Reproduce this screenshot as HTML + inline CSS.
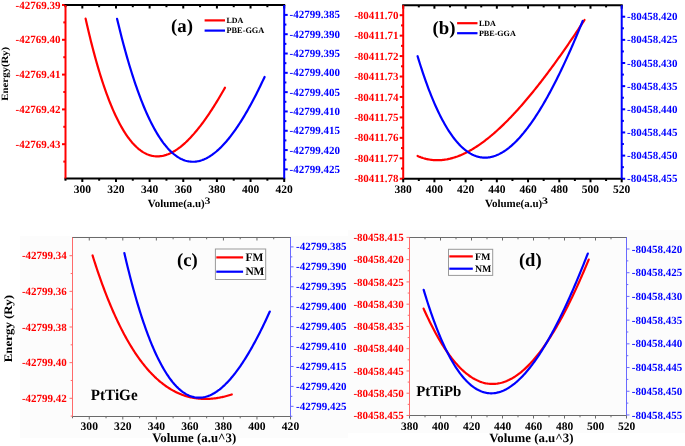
<!DOCTYPE html><html><head><meta charset="utf-8"><style>html,body{margin:0;padding:0;background:#fff;width:685px;height:446px;overflow:hidden}svg{display:block;will-change:transform}text{font-family:"Liberation Serif",serif;font-weight:bold;text-rendering:geometricPrecision}</style></head><body>
<svg width="685" height="446" viewBox="0 0 685 446">
<rect x="0" y="0" width="685" height="446" fill="#fff"/>
<rect x="20" y="236" width="328" height="202" fill="#fcfcfc"/>
<rect x="348" y="230" width="337" height="203" fill="#fcfcfc"/>
<line x1="65.50" y1="178.50" x2="65.50" y2="180.70" stroke="#000" stroke-width="2"/>
<line x1="65.50" y1="5.00" x2="65.50" y2="7.20" stroke="#000" stroke-width="2"/>
<line x1="82.32" y1="178.50" x2="82.32" y2="182.00" stroke="#000" stroke-width="2"/>
<line x1="82.32" y1="5.00" x2="82.32" y2="8.50" stroke="#000" stroke-width="2"/>
<text x="82.32" y="192.70" font-size="11.5" fill="#000" text-anchor="middle" >300</text>
<line x1="99.15" y1="178.50" x2="99.15" y2="180.70" stroke="#000" stroke-width="2"/>
<line x1="99.15" y1="5.00" x2="99.15" y2="7.20" stroke="#000" stroke-width="2"/>
<line x1="115.97" y1="178.50" x2="115.97" y2="182.00" stroke="#000" stroke-width="2"/>
<line x1="115.97" y1="5.00" x2="115.97" y2="8.50" stroke="#000" stroke-width="2"/>
<text x="115.97" y="192.70" font-size="11.5" fill="#000" text-anchor="middle" >320</text>
<line x1="132.79" y1="178.50" x2="132.79" y2="180.70" stroke="#000" stroke-width="2"/>
<line x1="132.79" y1="5.00" x2="132.79" y2="7.20" stroke="#000" stroke-width="2"/>
<line x1="149.62" y1="178.50" x2="149.62" y2="182.00" stroke="#000" stroke-width="2"/>
<line x1="149.62" y1="5.00" x2="149.62" y2="8.50" stroke="#000" stroke-width="2"/>
<text x="149.62" y="192.70" font-size="11.5" fill="#000" text-anchor="middle" >340</text>
<line x1="166.44" y1="178.50" x2="166.44" y2="180.70" stroke="#000" stroke-width="2"/>
<line x1="166.44" y1="5.00" x2="166.44" y2="7.20" stroke="#000" stroke-width="2"/>
<line x1="183.26" y1="178.50" x2="183.26" y2="182.00" stroke="#000" stroke-width="2"/>
<line x1="183.26" y1="5.00" x2="183.26" y2="8.50" stroke="#000" stroke-width="2"/>
<text x="183.26" y="192.70" font-size="11.5" fill="#000" text-anchor="middle" >360</text>
<line x1="200.08" y1="178.50" x2="200.08" y2="180.70" stroke="#000" stroke-width="2"/>
<line x1="200.08" y1="5.00" x2="200.08" y2="7.20" stroke="#000" stroke-width="2"/>
<line x1="216.91" y1="178.50" x2="216.91" y2="182.00" stroke="#000" stroke-width="2"/>
<line x1="216.91" y1="5.00" x2="216.91" y2="8.50" stroke="#000" stroke-width="2"/>
<text x="216.91" y="192.70" font-size="11.5" fill="#000" text-anchor="middle" >380</text>
<line x1="233.73" y1="178.50" x2="233.73" y2="180.70" stroke="#000" stroke-width="2"/>
<line x1="233.73" y1="5.00" x2="233.73" y2="7.20" stroke="#000" stroke-width="2"/>
<line x1="250.55" y1="178.50" x2="250.55" y2="182.00" stroke="#000" stroke-width="2"/>
<line x1="250.55" y1="5.00" x2="250.55" y2="8.50" stroke="#000" stroke-width="2"/>
<text x="250.55" y="192.70" font-size="11.5" fill="#000" text-anchor="middle" >400</text>
<line x1="267.38" y1="178.50" x2="267.38" y2="180.70" stroke="#000" stroke-width="2"/>
<line x1="267.38" y1="5.00" x2="267.38" y2="7.20" stroke="#000" stroke-width="2"/>
<line x1="284.20" y1="178.50" x2="284.20" y2="182.00" stroke="#000" stroke-width="2"/>
<line x1="284.20" y1="5.00" x2="284.20" y2="8.50" stroke="#000" stroke-width="2"/>
<text x="284.20" y="192.70" font-size="11.5" fill="#000" text-anchor="middle" >420</text>
<line x1="65.50" y1="5.00" x2="62.00" y2="5.00" stroke="#ff0000" stroke-width="2"/>
<text x="60.50" y="8.57" font-size="11.0" fill="#ff0000" text-anchor="end" >-42769.39</text>
<line x1="65.50" y1="22.40" x2="63.30" y2="22.40" stroke="#ff0000" stroke-width="2"/>
<line x1="65.50" y1="39.80" x2="62.00" y2="39.80" stroke="#ff0000" stroke-width="2"/>
<text x="60.50" y="43.38" font-size="11.0" fill="#ff0000" text-anchor="end" >-42769.40</text>
<line x1="65.50" y1="57.20" x2="63.30" y2="57.20" stroke="#ff0000" stroke-width="2"/>
<line x1="65.50" y1="74.60" x2="62.00" y2="74.60" stroke="#ff0000" stroke-width="2"/>
<text x="60.50" y="78.18" font-size="11.0" fill="#ff0000" text-anchor="end" >-42769.41</text>
<line x1="65.50" y1="92.00" x2="63.30" y2="92.00" stroke="#ff0000" stroke-width="2"/>
<line x1="65.50" y1="109.40" x2="62.00" y2="109.40" stroke="#ff0000" stroke-width="2"/>
<text x="60.50" y="112.98" font-size="11.0" fill="#ff0000" text-anchor="end" >-42769.42</text>
<line x1="65.50" y1="126.80" x2="63.30" y2="126.80" stroke="#ff0000" stroke-width="2"/>
<line x1="65.50" y1="144.20" x2="62.00" y2="144.20" stroke="#ff0000" stroke-width="2"/>
<text x="60.50" y="147.78" font-size="11.0" fill="#ff0000" text-anchor="end" >-42769.43</text>
<line x1="65.50" y1="161.60" x2="63.30" y2="161.60" stroke="#ff0000" stroke-width="2"/>
<line x1="284.20" y1="14.90" x2="287.70" y2="14.90" stroke="#0000ff" stroke-width="2"/>
<text x="289.50" y="18.48" font-size="11.0" fill="#0000ff" text-anchor="start" >-42799.385</text>
<line x1="284.20" y1="24.56" x2="286.40" y2="24.56" stroke="#0000ff" stroke-width="2"/>
<line x1="284.20" y1="34.21" x2="287.70" y2="34.21" stroke="#0000ff" stroke-width="2"/>
<text x="289.50" y="37.78" font-size="11.0" fill="#0000ff" text-anchor="start" >-42799.390</text>
<line x1="284.20" y1="43.86" x2="286.40" y2="43.86" stroke="#0000ff" stroke-width="2"/>
<line x1="284.20" y1="53.52" x2="287.70" y2="53.52" stroke="#0000ff" stroke-width="2"/>
<text x="289.50" y="57.09" font-size="11.0" fill="#0000ff" text-anchor="start" >-42799.395</text>
<line x1="284.20" y1="63.17" x2="286.40" y2="63.17" stroke="#0000ff" stroke-width="2"/>
<line x1="284.20" y1="72.83" x2="287.70" y2="72.83" stroke="#0000ff" stroke-width="2"/>
<text x="289.50" y="76.40" font-size="11.0" fill="#0000ff" text-anchor="start" >-42799.400</text>
<line x1="284.20" y1="82.48" x2="286.40" y2="82.48" stroke="#0000ff" stroke-width="2"/>
<line x1="284.20" y1="92.14" x2="287.70" y2="92.14" stroke="#0000ff" stroke-width="2"/>
<text x="289.50" y="95.71" font-size="11.0" fill="#0000ff" text-anchor="start" >-42799.405</text>
<line x1="284.20" y1="101.79" x2="286.40" y2="101.79" stroke="#0000ff" stroke-width="2"/>
<line x1="284.20" y1="111.45" x2="287.70" y2="111.45" stroke="#0000ff" stroke-width="2"/>
<text x="289.50" y="115.02" font-size="11.0" fill="#0000ff" text-anchor="start" >-42799.410</text>
<line x1="284.20" y1="121.10" x2="286.40" y2="121.10" stroke="#0000ff" stroke-width="2"/>
<line x1="284.20" y1="130.76" x2="287.70" y2="130.76" stroke="#0000ff" stroke-width="2"/>
<text x="289.50" y="134.33" font-size="11.0" fill="#0000ff" text-anchor="start" >-42799.415</text>
<line x1="284.20" y1="140.41" x2="286.40" y2="140.41" stroke="#0000ff" stroke-width="2"/>
<line x1="284.20" y1="150.07" x2="287.70" y2="150.07" stroke="#0000ff" stroke-width="2"/>
<text x="289.50" y="153.64" font-size="11.0" fill="#0000ff" text-anchor="start" >-42799.420</text>
<line x1="284.20" y1="159.72" x2="286.40" y2="159.72" stroke="#0000ff" stroke-width="2"/>
<line x1="284.20" y1="169.38" x2="287.70" y2="169.38" stroke="#0000ff" stroke-width="2"/>
<text x="289.50" y="172.95" font-size="11.0" fill="#0000ff" text-anchor="start" >-42799.425</text>
<line x1="64.50" y1="5.00" x2="285.20" y2="5.00" stroke="#000" stroke-width="2"/>
<line x1="64.50" y1="178.50" x2="285.20" y2="178.50" stroke="#000" stroke-width="2"/>
<line x1="65.50" y1="5.00" x2="65.50" y2="178.50" stroke="#ff0000" stroke-width="2"/>
<line x1="284.20" y1="5.00" x2="284.20" y2="178.50" stroke="#0000ff" stroke-width="2"/>
<line x1="403.20" y1="178.80" x2="403.20" y2="182.30" stroke="#000" stroke-width="2"/>
<line x1="403.20" y1="5.20" x2="403.20" y2="8.70" stroke="#000" stroke-width="2"/>
<text x="403.20" y="192.70" font-size="11.5" fill="#000" text-anchor="middle" >380</text>
<line x1="418.81" y1="178.80" x2="418.81" y2="181.00" stroke="#000" stroke-width="2"/>
<line x1="418.81" y1="5.20" x2="418.81" y2="7.40" stroke="#000" stroke-width="2"/>
<line x1="434.41" y1="178.80" x2="434.41" y2="182.30" stroke="#000" stroke-width="2"/>
<line x1="434.41" y1="5.20" x2="434.41" y2="8.70" stroke="#000" stroke-width="2"/>
<text x="434.41" y="192.70" font-size="11.5" fill="#000" text-anchor="middle" >400</text>
<line x1="450.02" y1="178.80" x2="450.02" y2="181.00" stroke="#000" stroke-width="2"/>
<line x1="450.02" y1="5.20" x2="450.02" y2="7.40" stroke="#000" stroke-width="2"/>
<line x1="465.63" y1="178.80" x2="465.63" y2="182.30" stroke="#000" stroke-width="2"/>
<line x1="465.63" y1="5.20" x2="465.63" y2="8.70" stroke="#000" stroke-width="2"/>
<text x="465.63" y="192.70" font-size="11.5" fill="#000" text-anchor="middle" >420</text>
<line x1="481.24" y1="178.80" x2="481.24" y2="181.00" stroke="#000" stroke-width="2"/>
<line x1="481.24" y1="5.20" x2="481.24" y2="7.40" stroke="#000" stroke-width="2"/>
<line x1="496.84" y1="178.80" x2="496.84" y2="182.30" stroke="#000" stroke-width="2"/>
<line x1="496.84" y1="5.20" x2="496.84" y2="8.70" stroke="#000" stroke-width="2"/>
<text x="496.84" y="192.70" font-size="11.5" fill="#000" text-anchor="middle" >440</text>
<line x1="512.45" y1="178.80" x2="512.45" y2="181.00" stroke="#000" stroke-width="2"/>
<line x1="512.45" y1="5.20" x2="512.45" y2="7.40" stroke="#000" stroke-width="2"/>
<line x1="528.06" y1="178.80" x2="528.06" y2="182.30" stroke="#000" stroke-width="2"/>
<line x1="528.06" y1="5.20" x2="528.06" y2="8.70" stroke="#000" stroke-width="2"/>
<text x="528.06" y="192.70" font-size="11.5" fill="#000" text-anchor="middle" >460</text>
<line x1="543.66" y1="178.80" x2="543.66" y2="181.00" stroke="#000" stroke-width="2"/>
<line x1="543.66" y1="5.20" x2="543.66" y2="7.40" stroke="#000" stroke-width="2"/>
<line x1="559.27" y1="178.80" x2="559.27" y2="182.30" stroke="#000" stroke-width="2"/>
<line x1="559.27" y1="5.20" x2="559.27" y2="8.70" stroke="#000" stroke-width="2"/>
<text x="559.27" y="192.70" font-size="11.5" fill="#000" text-anchor="middle" >480</text>
<line x1="574.88" y1="178.80" x2="574.88" y2="181.00" stroke="#000" stroke-width="2"/>
<line x1="574.88" y1="5.20" x2="574.88" y2="7.40" stroke="#000" stroke-width="2"/>
<line x1="590.49" y1="178.80" x2="590.49" y2="182.30" stroke="#000" stroke-width="2"/>
<line x1="590.49" y1="5.20" x2="590.49" y2="8.70" stroke="#000" stroke-width="2"/>
<text x="590.49" y="192.70" font-size="11.5" fill="#000" text-anchor="middle" >500</text>
<line x1="606.09" y1="178.80" x2="606.09" y2="181.00" stroke="#000" stroke-width="2"/>
<line x1="606.09" y1="5.20" x2="606.09" y2="7.40" stroke="#000" stroke-width="2"/>
<line x1="621.70" y1="178.80" x2="621.70" y2="182.30" stroke="#000" stroke-width="2"/>
<line x1="621.70" y1="5.20" x2="621.70" y2="8.70" stroke="#000" stroke-width="2"/>
<text x="621.70" y="192.70" font-size="11.5" fill="#000" text-anchor="middle" >520</text>
<line x1="403.20" y1="15.20" x2="399.70" y2="15.20" stroke="#ff0000" stroke-width="2"/>
<text x="398.50" y="18.77" font-size="11.0" fill="#ff0000" text-anchor="end" >-80411.70</text>
<line x1="403.20" y1="25.42" x2="401.00" y2="25.42" stroke="#ff0000" stroke-width="2"/>
<line x1="403.20" y1="35.64" x2="399.70" y2="35.64" stroke="#ff0000" stroke-width="2"/>
<text x="398.50" y="39.21" font-size="11.0" fill="#ff0000" text-anchor="end" >-80411.71</text>
<line x1="403.20" y1="45.86" x2="401.00" y2="45.86" stroke="#ff0000" stroke-width="2"/>
<line x1="403.20" y1="56.08" x2="399.70" y2="56.08" stroke="#ff0000" stroke-width="2"/>
<text x="398.50" y="59.65" font-size="11.0" fill="#ff0000" text-anchor="end" >-80411.72</text>
<line x1="403.20" y1="66.30" x2="401.00" y2="66.30" stroke="#ff0000" stroke-width="2"/>
<line x1="403.20" y1="76.52" x2="399.70" y2="76.52" stroke="#ff0000" stroke-width="2"/>
<text x="398.50" y="80.09" font-size="11.0" fill="#ff0000" text-anchor="end" >-80411.73</text>
<line x1="403.20" y1="86.74" x2="401.00" y2="86.74" stroke="#ff0000" stroke-width="2"/>
<line x1="403.20" y1="96.96" x2="399.70" y2="96.96" stroke="#ff0000" stroke-width="2"/>
<text x="398.50" y="100.53" font-size="11.0" fill="#ff0000" text-anchor="end" >-80411.74</text>
<line x1="403.20" y1="107.18" x2="401.00" y2="107.18" stroke="#ff0000" stroke-width="2"/>
<line x1="403.20" y1="117.40" x2="399.70" y2="117.40" stroke="#ff0000" stroke-width="2"/>
<text x="398.50" y="120.97" font-size="11.0" fill="#ff0000" text-anchor="end" >-80411.75</text>
<line x1="403.20" y1="127.62" x2="401.00" y2="127.62" stroke="#ff0000" stroke-width="2"/>
<line x1="403.20" y1="137.84" x2="399.70" y2="137.84" stroke="#ff0000" stroke-width="2"/>
<text x="398.50" y="141.41" font-size="11.0" fill="#ff0000" text-anchor="end" >-80411.76</text>
<line x1="403.20" y1="148.06" x2="401.00" y2="148.06" stroke="#ff0000" stroke-width="2"/>
<line x1="403.20" y1="158.28" x2="399.70" y2="158.28" stroke="#ff0000" stroke-width="2"/>
<text x="398.50" y="161.85" font-size="11.0" fill="#ff0000" text-anchor="end" >-80411.77</text>
<line x1="403.20" y1="168.50" x2="401.00" y2="168.50" stroke="#ff0000" stroke-width="2"/>
<line x1="403.20" y1="178.72" x2="399.70" y2="178.72" stroke="#ff0000" stroke-width="2"/>
<text x="398.50" y="182.29" font-size="11.0" fill="#ff0000" text-anchor="end" >-80411.78</text>
<line x1="621.70" y1="16.70" x2="625.20" y2="16.70" stroke="#0000ff" stroke-width="2"/>
<text x="627.00" y="20.27" font-size="11.0" fill="#0000ff" text-anchor="start" >-80458.420</text>
<line x1="621.70" y1="28.28" x2="623.90" y2="28.28" stroke="#0000ff" stroke-width="2"/>
<line x1="621.70" y1="39.85" x2="625.20" y2="39.85" stroke="#0000ff" stroke-width="2"/>
<text x="627.00" y="43.43" font-size="11.0" fill="#0000ff" text-anchor="start" >-80458.425</text>
<line x1="621.70" y1="51.43" x2="623.90" y2="51.43" stroke="#0000ff" stroke-width="2"/>
<line x1="621.70" y1="63.00" x2="625.20" y2="63.00" stroke="#0000ff" stroke-width="2"/>
<text x="627.00" y="66.58" font-size="11.0" fill="#0000ff" text-anchor="start" >-80458.430</text>
<line x1="621.70" y1="74.58" x2="623.90" y2="74.58" stroke="#0000ff" stroke-width="2"/>
<line x1="621.70" y1="86.15" x2="625.20" y2="86.15" stroke="#0000ff" stroke-width="2"/>
<text x="627.00" y="89.73" font-size="11.0" fill="#0000ff" text-anchor="start" >-80458.435</text>
<line x1="621.70" y1="97.73" x2="623.90" y2="97.73" stroke="#0000ff" stroke-width="2"/>
<line x1="621.70" y1="109.30" x2="625.20" y2="109.30" stroke="#0000ff" stroke-width="2"/>
<text x="627.00" y="112.88" font-size="11.0" fill="#0000ff" text-anchor="start" >-80458.440</text>
<line x1="621.70" y1="120.88" x2="623.90" y2="120.88" stroke="#0000ff" stroke-width="2"/>
<line x1="621.70" y1="132.45" x2="625.20" y2="132.45" stroke="#0000ff" stroke-width="2"/>
<text x="627.00" y="136.03" font-size="11.0" fill="#0000ff" text-anchor="start" >-80458.445</text>
<line x1="621.70" y1="144.03" x2="623.90" y2="144.03" stroke="#0000ff" stroke-width="2"/>
<line x1="621.70" y1="155.60" x2="625.20" y2="155.60" stroke="#0000ff" stroke-width="2"/>
<text x="627.00" y="159.18" font-size="11.0" fill="#0000ff" text-anchor="start" >-80458.450</text>
<line x1="621.70" y1="167.18" x2="623.90" y2="167.18" stroke="#0000ff" stroke-width="2"/>
<line x1="621.70" y1="178.75" x2="625.20" y2="178.75" stroke="#0000ff" stroke-width="2"/>
<text x="627.00" y="182.33" font-size="11.0" fill="#0000ff" text-anchor="start" >-80458.455</text>
<line x1="402.20" y1="5.20" x2="622.70" y2="5.20" stroke="#000" stroke-width="2"/>
<line x1="402.20" y1="178.80" x2="622.70" y2="178.80" stroke="#000" stroke-width="2"/>
<line x1="403.20" y1="5.20" x2="403.20" y2="178.80" stroke="#ff0000" stroke-width="2"/>
<line x1="621.70" y1="5.20" x2="621.70" y2="178.80" stroke="#0000ff" stroke-width="2"/>
<line x1="72.50" y1="416.50" x2="72.50" y2="418.30" stroke="#6a6a6a" stroke-width="1"/>
<line x1="72.50" y1="237.50" x2="72.50" y2="239.30" stroke="#6a6a6a" stroke-width="1"/>
<line x1="89.27" y1="416.50" x2="89.27" y2="419.50" stroke="#6a6a6a" stroke-width="1"/>
<line x1="89.27" y1="237.50" x2="89.27" y2="240.50" stroke="#6a6a6a" stroke-width="1"/>
<text x="89.27" y="430.30" font-size="11.6" fill="#000" text-anchor="middle" >300</text>
<line x1="106.04" y1="416.50" x2="106.04" y2="418.30" stroke="#6a6a6a" stroke-width="1"/>
<line x1="106.04" y1="237.50" x2="106.04" y2="239.30" stroke="#6a6a6a" stroke-width="1"/>
<line x1="122.81" y1="416.50" x2="122.81" y2="419.50" stroke="#6a6a6a" stroke-width="1"/>
<line x1="122.81" y1="237.50" x2="122.81" y2="240.50" stroke="#6a6a6a" stroke-width="1"/>
<text x="122.81" y="430.30" font-size="11.6" fill="#000" text-anchor="middle" >320</text>
<line x1="139.58" y1="416.50" x2="139.58" y2="418.30" stroke="#6a6a6a" stroke-width="1"/>
<line x1="139.58" y1="237.50" x2="139.58" y2="239.30" stroke="#6a6a6a" stroke-width="1"/>
<line x1="156.35" y1="416.50" x2="156.35" y2="419.50" stroke="#6a6a6a" stroke-width="1"/>
<line x1="156.35" y1="237.50" x2="156.35" y2="240.50" stroke="#6a6a6a" stroke-width="1"/>
<text x="156.35" y="430.30" font-size="11.6" fill="#000" text-anchor="middle" >340</text>
<line x1="173.12" y1="416.50" x2="173.12" y2="418.30" stroke="#6a6a6a" stroke-width="1"/>
<line x1="173.12" y1="237.50" x2="173.12" y2="239.30" stroke="#6a6a6a" stroke-width="1"/>
<line x1="189.88" y1="416.50" x2="189.88" y2="419.50" stroke="#6a6a6a" stroke-width="1"/>
<line x1="189.88" y1="237.50" x2="189.88" y2="240.50" stroke="#6a6a6a" stroke-width="1"/>
<text x="189.88" y="430.30" font-size="11.6" fill="#000" text-anchor="middle" >360</text>
<line x1="206.65" y1="416.50" x2="206.65" y2="418.30" stroke="#6a6a6a" stroke-width="1"/>
<line x1="206.65" y1="237.50" x2="206.65" y2="239.30" stroke="#6a6a6a" stroke-width="1"/>
<line x1="223.42" y1="416.50" x2="223.42" y2="419.50" stroke="#6a6a6a" stroke-width="1"/>
<line x1="223.42" y1="237.50" x2="223.42" y2="240.50" stroke="#6a6a6a" stroke-width="1"/>
<text x="223.42" y="430.30" font-size="11.6" fill="#000" text-anchor="middle" >380</text>
<line x1="240.19" y1="416.50" x2="240.19" y2="418.30" stroke="#6a6a6a" stroke-width="1"/>
<line x1="240.19" y1="237.50" x2="240.19" y2="239.30" stroke="#6a6a6a" stroke-width="1"/>
<line x1="256.96" y1="416.50" x2="256.96" y2="419.50" stroke="#6a6a6a" stroke-width="1"/>
<line x1="256.96" y1="237.50" x2="256.96" y2="240.50" stroke="#6a6a6a" stroke-width="1"/>
<text x="256.96" y="430.30" font-size="11.6" fill="#000" text-anchor="middle" >400</text>
<line x1="273.73" y1="416.50" x2="273.73" y2="418.30" stroke="#6a6a6a" stroke-width="1"/>
<line x1="273.73" y1="237.50" x2="273.73" y2="239.30" stroke="#6a6a6a" stroke-width="1"/>
<line x1="290.50" y1="416.50" x2="290.50" y2="419.50" stroke="#6a6a6a" stroke-width="1"/>
<line x1="290.50" y1="237.50" x2="290.50" y2="240.50" stroke="#6a6a6a" stroke-width="1"/>
<text x="290.50" y="430.30" font-size="11.6" fill="#000" text-anchor="middle" >420</text>
<line x1="72.50" y1="255.70" x2="69.50" y2="255.70" stroke="#ff6a6a" stroke-width="1"/>
<text x="66.80" y="259.27" font-size="11.0" fill="#ff0000" text-anchor="end" >-42799.34</text>
<line x1="72.50" y1="273.53" x2="70.70" y2="273.53" stroke="#ff6a6a" stroke-width="1"/>
<line x1="72.50" y1="291.35" x2="69.50" y2="291.35" stroke="#ff6a6a" stroke-width="1"/>
<text x="66.80" y="294.92" font-size="11.0" fill="#ff0000" text-anchor="end" >-42799.36</text>
<line x1="72.50" y1="309.17" x2="70.70" y2="309.17" stroke="#ff6a6a" stroke-width="1"/>
<line x1="72.50" y1="327.00" x2="69.50" y2="327.00" stroke="#ff6a6a" stroke-width="1"/>
<text x="66.80" y="330.57" font-size="11.0" fill="#ff0000" text-anchor="end" >-42799.38</text>
<line x1="72.50" y1="344.82" x2="70.70" y2="344.82" stroke="#ff6a6a" stroke-width="1"/>
<line x1="72.50" y1="362.65" x2="69.50" y2="362.65" stroke="#ff6a6a" stroke-width="1"/>
<text x="66.80" y="366.22" font-size="11.0" fill="#ff0000" text-anchor="end" >-42799.40</text>
<line x1="72.50" y1="380.47" x2="70.70" y2="380.47" stroke="#ff6a6a" stroke-width="1"/>
<line x1="72.50" y1="398.30" x2="69.50" y2="398.30" stroke="#ff6a6a" stroke-width="1"/>
<text x="66.80" y="401.87" font-size="11.0" fill="#ff0000" text-anchor="end" >-42799.42</text>
<line x1="72.50" y1="416.12" x2="70.70" y2="416.12" stroke="#ff6a6a" stroke-width="1"/>
<line x1="290.50" y1="246.90" x2="293.50" y2="246.90" stroke="#6a6aff" stroke-width="1"/>
<text x="296.00" y="250.47" font-size="11.0" fill="#0000ff" text-anchor="start" >-42799.385</text>
<line x1="290.50" y1="256.87" x2="292.30" y2="256.87" stroke="#6a6aff" stroke-width="1"/>
<line x1="290.50" y1="266.83" x2="293.50" y2="266.83" stroke="#6a6aff" stroke-width="1"/>
<text x="296.00" y="270.40" font-size="11.0" fill="#0000ff" text-anchor="start" >-42799.390</text>
<line x1="290.50" y1="276.79" x2="292.30" y2="276.79" stroke="#6a6aff" stroke-width="1"/>
<line x1="290.50" y1="286.76" x2="293.50" y2="286.76" stroke="#6a6aff" stroke-width="1"/>
<text x="296.00" y="290.33" font-size="11.0" fill="#0000ff" text-anchor="start" >-42799.395</text>
<line x1="290.50" y1="296.72" x2="292.30" y2="296.72" stroke="#6a6aff" stroke-width="1"/>
<line x1="290.50" y1="306.69" x2="293.50" y2="306.69" stroke="#6a6aff" stroke-width="1"/>
<text x="296.00" y="310.26" font-size="11.0" fill="#0000ff" text-anchor="start" >-42799.400</text>
<line x1="290.50" y1="316.65" x2="292.30" y2="316.65" stroke="#6a6aff" stroke-width="1"/>
<line x1="290.50" y1="326.62" x2="293.50" y2="326.62" stroke="#6a6aff" stroke-width="1"/>
<text x="296.00" y="330.19" font-size="11.0" fill="#0000ff" text-anchor="start" >-42799.405</text>
<line x1="290.50" y1="336.58" x2="292.30" y2="336.58" stroke="#6a6aff" stroke-width="1"/>
<line x1="290.50" y1="346.55" x2="293.50" y2="346.55" stroke="#6a6aff" stroke-width="1"/>
<text x="296.00" y="350.12" font-size="11.0" fill="#0000ff" text-anchor="start" >-42799.410</text>
<line x1="290.50" y1="356.51" x2="292.30" y2="356.51" stroke="#6a6aff" stroke-width="1"/>
<line x1="290.50" y1="366.48" x2="293.50" y2="366.48" stroke="#6a6aff" stroke-width="1"/>
<text x="296.00" y="370.05" font-size="11.0" fill="#0000ff" text-anchor="start" >-42799.415</text>
<line x1="290.50" y1="376.44" x2="292.30" y2="376.44" stroke="#6a6aff" stroke-width="1"/>
<line x1="290.50" y1="386.41" x2="293.50" y2="386.41" stroke="#6a6aff" stroke-width="1"/>
<text x="296.00" y="389.98" font-size="11.0" fill="#0000ff" text-anchor="start" >-42799.420</text>
<line x1="290.50" y1="396.37" x2="292.30" y2="396.37" stroke="#6a6aff" stroke-width="1"/>
<line x1="290.50" y1="406.34" x2="293.50" y2="406.34" stroke="#6a6aff" stroke-width="1"/>
<text x="296.00" y="409.91" font-size="11.0" fill="#0000ff" text-anchor="start" >-42799.425</text>
<line x1="290.50" y1="416.30" x2="292.30" y2="416.30" stroke="#6a6aff" stroke-width="1"/>
<line x1="72.00" y1="237.50" x2="291.00" y2="237.50" stroke="#6a6a6a" stroke-width="1"/>
<line x1="72.00" y1="416.50" x2="291.00" y2="416.50" stroke="#6a6a6a" stroke-width="1"/>
<line x1="72.50" y1="237.50" x2="72.50" y2="416.50" stroke="#ff6a6a" stroke-width="1"/>
<line x1="290.50" y1="237.50" x2="290.50" y2="416.50" stroke="#6a6aff" stroke-width="1"/>
<line x1="409.50" y1="415.50" x2="409.50" y2="418.50" stroke="#6a6a6a" stroke-width="1"/>
<line x1="409.50" y1="237.50" x2="409.50" y2="240.50" stroke="#6a6a6a" stroke-width="1"/>
<text x="409.50" y="430.30" font-size="11.5" fill="#000" text-anchor="middle" >380</text>
<line x1="425.00" y1="415.50" x2="425.00" y2="417.30" stroke="#6a6a6a" stroke-width="1"/>
<line x1="425.00" y1="237.50" x2="425.00" y2="239.30" stroke="#6a6a6a" stroke-width="1"/>
<line x1="440.50" y1="415.50" x2="440.50" y2="418.50" stroke="#6a6a6a" stroke-width="1"/>
<line x1="440.50" y1="237.50" x2="440.50" y2="240.50" stroke="#6a6a6a" stroke-width="1"/>
<text x="440.50" y="430.30" font-size="11.5" fill="#000" text-anchor="middle" >400</text>
<line x1="456.00" y1="415.50" x2="456.00" y2="417.30" stroke="#6a6a6a" stroke-width="1"/>
<line x1="456.00" y1="237.50" x2="456.00" y2="239.30" stroke="#6a6a6a" stroke-width="1"/>
<line x1="471.50" y1="415.50" x2="471.50" y2="418.50" stroke="#6a6a6a" stroke-width="1"/>
<line x1="471.50" y1="237.50" x2="471.50" y2="240.50" stroke="#6a6a6a" stroke-width="1"/>
<text x="471.50" y="430.30" font-size="11.5" fill="#000" text-anchor="middle" >420</text>
<line x1="487.00" y1="415.50" x2="487.00" y2="417.30" stroke="#6a6a6a" stroke-width="1"/>
<line x1="487.00" y1="237.50" x2="487.00" y2="239.30" stroke="#6a6a6a" stroke-width="1"/>
<line x1="502.50" y1="415.50" x2="502.50" y2="418.50" stroke="#6a6a6a" stroke-width="1"/>
<line x1="502.50" y1="237.50" x2="502.50" y2="240.50" stroke="#6a6a6a" stroke-width="1"/>
<text x="502.50" y="430.30" font-size="11.5" fill="#000" text-anchor="middle" >440</text>
<line x1="518.00" y1="415.50" x2="518.00" y2="417.30" stroke="#6a6a6a" stroke-width="1"/>
<line x1="518.00" y1="237.50" x2="518.00" y2="239.30" stroke="#6a6a6a" stroke-width="1"/>
<line x1="533.50" y1="415.50" x2="533.50" y2="418.50" stroke="#6a6a6a" stroke-width="1"/>
<line x1="533.50" y1="237.50" x2="533.50" y2="240.50" stroke="#6a6a6a" stroke-width="1"/>
<text x="533.50" y="430.30" font-size="11.5" fill="#000" text-anchor="middle" >460</text>
<line x1="549.00" y1="415.50" x2="549.00" y2="417.30" stroke="#6a6a6a" stroke-width="1"/>
<line x1="549.00" y1="237.50" x2="549.00" y2="239.30" stroke="#6a6a6a" stroke-width="1"/>
<line x1="564.50" y1="415.50" x2="564.50" y2="418.50" stroke="#6a6a6a" stroke-width="1"/>
<line x1="564.50" y1="237.50" x2="564.50" y2="240.50" stroke="#6a6a6a" stroke-width="1"/>
<text x="564.50" y="430.30" font-size="11.5" fill="#000" text-anchor="middle" >480</text>
<line x1="580.00" y1="415.50" x2="580.00" y2="417.30" stroke="#6a6a6a" stroke-width="1"/>
<line x1="580.00" y1="237.50" x2="580.00" y2="239.30" stroke="#6a6a6a" stroke-width="1"/>
<line x1="595.50" y1="415.50" x2="595.50" y2="418.50" stroke="#6a6a6a" stroke-width="1"/>
<line x1="595.50" y1="237.50" x2="595.50" y2="240.50" stroke="#6a6a6a" stroke-width="1"/>
<text x="595.50" y="430.30" font-size="11.5" fill="#000" text-anchor="middle" >500</text>
<line x1="611.00" y1="415.50" x2="611.00" y2="417.30" stroke="#6a6a6a" stroke-width="1"/>
<line x1="611.00" y1="237.50" x2="611.00" y2="239.30" stroke="#6a6a6a" stroke-width="1"/>
<line x1="626.50" y1="415.50" x2="626.50" y2="418.50" stroke="#6a6a6a" stroke-width="1"/>
<line x1="626.50" y1="237.50" x2="626.50" y2="240.50" stroke="#6a6a6a" stroke-width="1"/>
<text x="626.50" y="430.30" font-size="11.5" fill="#000" text-anchor="middle" >520</text>
<line x1="409.50" y1="237.40" x2="406.50" y2="237.40" stroke="#ff6a6a" stroke-width="1"/>
<text x="403.80" y="240.97" font-size="11.0" fill="#ff0000" text-anchor="end" >-80458.415</text>
<line x1="409.50" y1="248.53" x2="407.70" y2="248.53" stroke="#ff6a6a" stroke-width="1"/>
<line x1="409.50" y1="259.66" x2="406.50" y2="259.66" stroke="#ff6a6a" stroke-width="1"/>
<text x="403.80" y="263.24" font-size="11.0" fill="#ff0000" text-anchor="end" >-80458.420</text>
<line x1="409.50" y1="270.79" x2="407.70" y2="270.79" stroke="#ff6a6a" stroke-width="1"/>
<line x1="409.50" y1="281.92" x2="406.50" y2="281.92" stroke="#ff6a6a" stroke-width="1"/>
<text x="403.80" y="285.50" font-size="11.0" fill="#ff0000" text-anchor="end" >-80458.425</text>
<line x1="409.50" y1="293.05" x2="407.70" y2="293.05" stroke="#ff6a6a" stroke-width="1"/>
<line x1="409.50" y1="304.18" x2="406.50" y2="304.18" stroke="#ff6a6a" stroke-width="1"/>
<text x="403.80" y="307.76" font-size="11.0" fill="#ff0000" text-anchor="end" >-80458.430</text>
<line x1="409.50" y1="315.31" x2="407.70" y2="315.31" stroke="#ff6a6a" stroke-width="1"/>
<line x1="409.50" y1="326.44" x2="406.50" y2="326.44" stroke="#ff6a6a" stroke-width="1"/>
<text x="403.80" y="330.02" font-size="11.0" fill="#ff0000" text-anchor="end" >-80458.435</text>
<line x1="409.50" y1="337.57" x2="407.70" y2="337.57" stroke="#ff6a6a" stroke-width="1"/>
<line x1="409.50" y1="348.70" x2="406.50" y2="348.70" stroke="#ff6a6a" stroke-width="1"/>
<text x="403.80" y="352.28" font-size="11.0" fill="#ff0000" text-anchor="end" >-80458.440</text>
<line x1="409.50" y1="359.83" x2="407.70" y2="359.83" stroke="#ff6a6a" stroke-width="1"/>
<line x1="409.50" y1="370.96" x2="406.50" y2="370.96" stroke="#ff6a6a" stroke-width="1"/>
<text x="403.80" y="374.54" font-size="11.0" fill="#ff0000" text-anchor="end" >-80458.445</text>
<line x1="409.50" y1="382.09" x2="407.70" y2="382.09" stroke="#ff6a6a" stroke-width="1"/>
<line x1="409.50" y1="393.22" x2="406.50" y2="393.22" stroke="#ff6a6a" stroke-width="1"/>
<text x="403.80" y="396.80" font-size="11.0" fill="#ff0000" text-anchor="end" >-80458.450</text>
<line x1="409.50" y1="404.35" x2="407.70" y2="404.35" stroke="#ff6a6a" stroke-width="1"/>
<line x1="409.50" y1="415.48" x2="406.50" y2="415.48" stroke="#ff6a6a" stroke-width="1"/>
<text x="403.80" y="419.06" font-size="11.0" fill="#ff0000" text-anchor="end" >-80458.455</text>
<line x1="626.50" y1="249.00" x2="629.50" y2="249.00" stroke="#6a6aff" stroke-width="1"/>
<text x="631.80" y="252.57" font-size="11.0" fill="#0000ff" text-anchor="start" >-80458.420</text>
<line x1="626.50" y1="260.86" x2="628.30" y2="260.86" stroke="#6a6aff" stroke-width="1"/>
<line x1="626.50" y1="272.71" x2="629.50" y2="272.71" stroke="#6a6aff" stroke-width="1"/>
<text x="631.80" y="276.29" font-size="11.0" fill="#0000ff" text-anchor="start" >-80458.425</text>
<line x1="626.50" y1="284.57" x2="628.30" y2="284.57" stroke="#6a6aff" stroke-width="1"/>
<line x1="626.50" y1="296.42" x2="629.50" y2="296.42" stroke="#6a6aff" stroke-width="1"/>
<text x="631.80" y="300.00" font-size="11.0" fill="#0000ff" text-anchor="start" >-80458.430</text>
<line x1="626.50" y1="308.28" x2="628.30" y2="308.28" stroke="#6a6aff" stroke-width="1"/>
<line x1="626.50" y1="320.13" x2="629.50" y2="320.13" stroke="#6a6aff" stroke-width="1"/>
<text x="631.80" y="323.71" font-size="11.0" fill="#0000ff" text-anchor="start" >-80458.435</text>
<line x1="626.50" y1="331.99" x2="628.30" y2="331.99" stroke="#6a6aff" stroke-width="1"/>
<line x1="626.50" y1="343.84" x2="629.50" y2="343.84" stroke="#6a6aff" stroke-width="1"/>
<text x="631.80" y="347.42" font-size="11.0" fill="#0000ff" text-anchor="start" >-80458.440</text>
<line x1="626.50" y1="355.70" x2="628.30" y2="355.70" stroke="#6a6aff" stroke-width="1"/>
<line x1="626.50" y1="367.55" x2="629.50" y2="367.55" stroke="#6a6aff" stroke-width="1"/>
<text x="631.80" y="371.13" font-size="11.0" fill="#0000ff" text-anchor="start" >-80458.445</text>
<line x1="626.50" y1="379.41" x2="628.30" y2="379.41" stroke="#6a6aff" stroke-width="1"/>
<line x1="626.50" y1="391.26" x2="629.50" y2="391.26" stroke="#6a6aff" stroke-width="1"/>
<text x="631.80" y="394.84" font-size="11.0" fill="#0000ff" text-anchor="start" >-80458.450</text>
<line x1="626.50" y1="403.12" x2="628.30" y2="403.12" stroke="#6a6aff" stroke-width="1"/>
<line x1="626.50" y1="414.97" x2="629.50" y2="414.97" stroke="#6a6aff" stroke-width="1"/>
<text x="631.80" y="418.55" font-size="11.0" fill="#0000ff" text-anchor="start" >-80458.455</text>
<line x1="409.00" y1="237.50" x2="627.00" y2="237.50" stroke="#6a6a6a" stroke-width="1"/>
<line x1="409.00" y1="415.50" x2="627.00" y2="415.50" stroke="#6a6a6a" stroke-width="1"/>
<line x1="409.50" y1="237.50" x2="409.50" y2="415.50" stroke="#ff6a6a" stroke-width="1"/>
<line x1="626.50" y1="237.50" x2="626.50" y2="415.50" stroke="#6a6aff" stroke-width="1"/>
<path d="M85.60,18.62 L86.48,22.50 L87.35,26.32 L88.23,30.07 L89.11,33.75 L89.98,37.36 L90.86,40.90 L91.74,44.37 L92.61,47.78 L93.49,51.12 L94.37,54.40 L95.24,57.61 L96.12,60.76 L97.00,63.85 L97.87,66.87 L98.75,69.83 L99.63,72.73 L100.50,75.57 L101.38,78.35 L102.26,81.07 L103.13,83.74 L104.01,86.34 L104.89,88.89 L105.76,91.38 L106.64,93.81 L107.52,96.19 L108.39,98.51 L109.27,100.78 L110.15,103.00 L111.03,105.16 L111.90,107.27 L112.78,109.32 L113.66,111.33 L114.53,113.28 L115.41,115.19 L116.29,117.04 L117.16,118.84 L118.04,120.60 L118.92,122.30 L119.79,123.96 L120.67,125.57 L121.55,127.14 L122.42,128.66 L123.30,130.13 L124.18,131.55 L125.05,132.94 L125.93,134.27 L126.81,135.57 L127.68,136.81 L128.56,138.02 L129.44,139.18 L130.31,140.30 L131.19,141.38 L132.07,142.42 L132.94,143.42 L133.82,144.38 L134.70,145.29 L135.57,146.17 L136.45,147.01 L137.33,147.81 L138.20,148.57 L139.08,149.29 L139.96,149.97 L140.83,150.62 L141.71,151.23 L142.59,151.81 L143.46,152.35 L144.34,152.85 L145.22,153.32 L146.09,153.75 L146.97,154.15 L147.85,154.51 L148.72,154.84 L149.60,155.14 L150.48,155.40 L151.35,155.63 L152.23,155.83 L153.11,156.00 L153.98,156.14 L154.86,156.24 L155.74,156.31 L156.62,156.35 L157.49,156.37 L158.37,156.35 L159.25,156.30 L160.12,156.22 L161.00,156.12 L161.88,155.98 L162.75,155.82 L163.63,155.63 L164.51,155.41 L165.38,155.16 L166.26,154.89 L167.14,154.58 L168.01,154.26 L168.89,153.90 L169.77,153.52 L170.64,153.12 L171.52,152.68 L172.40,152.23 L173.27,151.75 L174.15,151.24 L175.03,150.71 L175.90,150.15 L176.78,149.58 L177.66,148.97 L178.53,148.35 L179.41,147.70 L180.29,147.03 L181.16,146.33 L182.04,145.61 L182.92,144.87 L183.79,144.11 L184.67,143.33 L185.55,142.53 L186.42,141.70 L187.30,140.86 L188.18,139.99 L189.05,139.10 L189.93,138.19 L190.81,137.27 L191.68,136.32 L192.56,135.35 L193.44,134.37 L194.31,133.36 L195.19,132.34 L196.07,131.29 L196.94,130.23 L197.82,129.15 L198.70,128.06 L199.57,126.94 L200.45,125.81 L201.33,124.66 L202.21,123.49 L203.08,122.30 L203.96,121.10 L204.84,119.88 L205.71,118.65 L206.59,117.39 L207.47,116.13 L208.34,114.84 L209.22,113.54 L210.10,112.23 L210.97,110.90 L211.85,109.55 L212.73,108.19 L213.60,106.81 L214.48,105.42 L215.36,104.02 L216.23,102.60 L217.11,101.17 L217.99,99.72 L218.86,98.26 L219.74,96.78 L220.62,95.29 L221.49,93.79 L222.37,92.28 L223.25,90.75 L224.12,89.21 L225.00,87.65" fill="none" stroke="#ff0000" stroke-width="2.2" stroke-linecap="round" stroke-linejoin="round"/>
<path d="M117.10,18.89 L118.03,22.77 L118.96,26.59 L119.88,30.34 L120.81,34.02 L121.74,37.65 L122.67,41.21 L123.59,44.71 L124.52,48.15 L125.45,51.53 L126.38,54.84 L127.30,58.10 L128.23,61.30 L129.16,64.44 L130.09,67.52 L131.02,70.54 L131.94,73.50 L132.87,76.41 L133.80,79.26 L134.73,82.06 L135.65,84.79 L136.58,87.48 L137.51,90.11 L138.44,92.68 L139.36,95.20 L140.29,97.66 L141.22,100.08 L142.15,102.44 L143.07,104.74 L144.00,107.00 L144.93,109.20 L145.86,111.36 L146.79,113.46 L147.71,115.51 L148.64,117.51 L149.57,119.46 L150.50,121.37 L151.42,123.22 L152.35,125.03 L153.28,126.78 L154.21,128.49 L155.13,130.15 L156.06,131.77 L156.99,133.34 L157.92,134.86 L158.85,136.34 L159.77,137.77 L160.70,139.16 L161.63,140.50 L162.56,141.79 L163.48,143.05 L164.41,144.26 L165.34,145.42 L166.27,146.54 L167.19,147.62 L168.12,148.66 L169.05,149.66 L169.98,150.61 L170.91,151.52 L171.83,152.39 L172.76,153.22 L173.69,154.01 L174.62,154.76 L175.54,155.47 L176.47,156.14 L177.40,156.77 L178.33,157.36 L179.25,157.91 L180.18,158.43 L181.11,158.91 L182.04,159.34 L182.96,159.75 L183.89,160.11 L184.82,160.44 L185.75,160.73 L186.68,160.98 L187.60,161.20 L188.53,161.38 L189.46,161.53 L190.39,161.64 L191.31,161.72 L192.24,161.76 L193.17,161.76 L194.10,161.74 L195.02,161.68 L195.95,161.58 L196.88,161.45 L197.81,161.29 L198.74,161.10 L199.66,160.87 L200.59,160.61 L201.52,160.32 L202.45,160.00 L203.37,159.65 L204.30,159.26 L205.23,158.84 L206.16,158.39 L207.08,157.91 L208.01,157.40 L208.94,156.87 L209.87,156.30 L210.79,155.70 L211.72,155.07 L212.65,154.41 L213.58,153.72 L214.51,153.00 L215.43,152.26 L216.36,151.49 L217.29,150.68 L218.22,149.85 L219.14,149.00 L220.07,148.11 L221.00,147.20 L221.93,146.26 L222.85,145.29 L223.78,144.30 L224.71,143.28 L225.64,142.23 L226.57,141.16 L227.49,140.06 L228.42,138.94 L229.35,137.79 L230.28,136.61 L231.20,135.41 L232.13,134.19 L233.06,132.93 L233.99,131.66 L234.91,130.36 L235.84,129.04 L236.77,127.69 L237.70,126.32 L238.63,124.92 L239.55,123.50 L240.48,122.06 L241.41,120.60 L242.34,119.11 L243.26,117.60 L244.19,116.06 L245.12,114.51 L246.05,112.93 L246.97,111.33 L247.90,109.71 L248.83,108.06 L249.76,106.39 L250.68,104.71 L251.61,103.00 L252.54,101.27 L253.47,99.52 L254.40,97.75 L255.32,95.95 L256.25,94.14 L257.18,92.31 L258.11,90.45 L259.03,88.58 L259.96,86.69 L260.89,84.77 L261.82,82.84 L262.74,80.89 L263.67,78.92 L264.60,76.93" fill="none" stroke="#0000ff" stroke-width="2.2" stroke-linecap="round" stroke-linejoin="round"/>
<path d="M417.60,155.99 L418.65,156.44 L419.70,156.86 L420.75,157.26 L421.80,157.63 L422.85,157.98 L423.90,158.30 L424.95,158.59 L426.00,158.86 L427.05,159.10 L428.10,159.32 L429.15,159.52 L430.20,159.69 L431.25,159.83 L432.30,159.96 L433.35,160.06 L434.39,160.13 L435.44,160.19 L436.49,160.22 L437.54,160.22 L438.59,160.21 L439.64,160.17 L440.69,160.12 L441.74,160.04 L442.79,159.94 L443.84,159.82 L444.89,159.67 L445.94,159.51 L446.99,159.33 L448.04,159.12 L449.09,158.90 L450.14,158.66 L451.19,158.39 L452.24,158.11 L453.29,157.81 L454.34,157.49 L455.39,157.15 L456.44,156.79 L457.49,156.42 L458.54,156.02 L459.59,155.61 L460.64,155.18 L461.69,154.73 L462.74,154.27 L463.79,153.78 L464.84,153.29 L465.89,152.77 L466.94,152.24 L467.98,151.69 L469.03,151.12 L470.08,150.54 L471.13,149.94 L472.18,149.33 L473.23,148.70 L474.28,148.05 L475.33,147.39 L476.38,146.72 L477.43,146.03 L478.48,145.32 L479.53,144.60 L480.58,143.87 L481.63,143.12 L482.68,142.36 L483.73,141.58 L484.78,140.79 L485.83,139.99 L486.88,139.17 L487.93,138.34 L488.98,137.49 L490.03,136.64 L491.08,135.76 L492.13,134.88 L493.18,133.98 L494.23,133.07 L495.28,132.15 L496.33,131.22 L497.38,130.27 L498.43,129.31 L499.48,128.34 L500.53,127.36 L501.57,126.37 L502.62,125.36 L503.67,124.35 L504.72,123.32 L505.77,122.28 L506.82,121.23 L507.87,120.17 L508.92,119.10 L509.97,118.01 L511.02,116.92 L512.07,115.82 L513.12,114.70 L514.17,113.58 L515.22,112.44 L516.27,111.30 L517.32,110.14 L518.37,108.98 L519.42,107.81 L520.47,106.62 L521.52,105.43 L522.57,104.23 L523.62,103.02 L524.67,101.79 L525.72,100.56 L526.77,99.33 L527.82,98.08 L528.87,96.82 L529.92,95.56 L530.97,94.28 L532.02,93.00 L533.07,91.71 L534.12,90.41 L535.16,89.11 L536.21,87.79 L537.26,86.47 L538.31,85.14 L539.36,83.80 L540.41,82.45 L541.46,81.10 L542.51,79.74 L543.56,78.37 L544.61,76.99 L545.66,75.61 L546.71,74.22 L547.76,72.82 L548.81,71.42 L549.86,70.01 L550.91,68.59 L551.96,67.16 L553.01,65.73 L554.06,64.29 L555.11,62.85 L556.16,61.39 L557.21,59.94 L558.26,58.47 L559.31,57.00 L560.36,55.52 L561.41,54.04 L562.46,52.55 L563.51,51.06 L564.56,49.56 L565.61,48.05 L566.66,46.54 L567.71,45.02 L568.75,43.50 L569.80,41.97 L570.85,40.43 L571.90,38.89 L572.95,37.35 L574.00,35.80 L575.05,34.24 L576.10,32.68 L577.15,31.12 L578.20,29.55 L579.25,27.97 L580.30,26.39 L581.35,24.80 L582.40,23.21 L583.45,21.62 L584.50,20.02" fill="none" stroke="#ff0000" stroke-width="2.2" stroke-linecap="round" stroke-linejoin="round"/>
<path d="M417.60,56.25 L418.64,59.65 L419.68,62.99 L420.72,66.26 L421.75,69.46 L422.79,72.59 L423.83,75.66 L424.87,78.66 L425.91,81.60 L426.95,84.47 L427.98,87.28 L429.02,90.02 L430.06,92.71 L431.10,95.33 L432.14,97.88 L433.18,100.38 L434.21,102.82 L435.25,105.19 L436.29,107.51 L437.33,109.77 L438.37,111.97 L439.41,114.11 L440.44,116.19 L441.48,118.21 L442.52,120.18 L443.56,122.10 L444.60,123.95 L445.64,125.76 L446.67,127.50 L447.71,129.20 L448.75,130.83 L449.79,132.42 L450.83,133.95 L451.87,135.43 L452.90,136.86 L453.94,138.24 L454.98,139.57 L456.02,140.84 L457.06,142.07 L458.10,143.24 L459.13,144.37 L460.17,145.44 L461.21,146.47 L462.25,147.45 L463.29,148.39 L464.33,149.27 L465.36,150.11 L466.40,150.90 L467.44,151.65 L468.48,152.35 L469.52,153.00 L470.56,153.61 L471.59,154.17 L472.63,154.70 L473.67,155.17 L474.71,155.61 L475.75,156.00 L476.79,156.34 L477.83,156.65 L478.86,156.91 L479.90,157.13 L480.94,157.31 L481.98,157.45 L483.02,157.55 L484.06,157.61 L485.09,157.63 L486.13,157.61 L487.17,157.55 L488.21,157.45 L489.25,157.31 L490.29,157.13 L491.32,156.92 L492.36,156.67 L493.40,156.38 L494.44,156.05 L495.48,155.69 L496.52,155.29 L497.55,154.85 L498.59,154.38 L499.63,153.88 L500.67,153.33 L501.71,152.76 L502.75,152.15 L503.78,151.50 L504.82,150.82 L505.86,150.11 L506.90,149.36 L507.94,148.58 L508.98,147.77 L510.01,146.92 L511.05,146.04 L512.09,145.13 L513.13,144.19 L514.17,143.22 L515.21,142.21 L516.24,141.18 L517.28,140.11 L518.32,139.02 L519.36,137.89 L520.40,136.73 L521.44,135.55 L522.47,134.33 L523.51,133.08 L524.55,131.81 L525.59,130.51 L526.63,129.18 L527.67,127.82 L528.71,126.43 L529.74,125.01 L530.78,123.57 L531.82,122.10 L532.86,120.60 L533.90,119.08 L534.94,117.53 L535.97,115.95 L537.01,114.35 L538.05,112.72 L539.09,111.06 L540.13,109.38 L541.17,107.67 L542.20,105.94 L543.24,104.19 L544.28,102.41 L545.32,100.60 L546.36,98.77 L547.40,96.92 L548.43,95.04 L549.47,93.14 L550.51,91.21 L551.55,89.27 L552.59,87.29 L553.63,85.30 L554.66,83.28 L555.70,81.25 L556.74,79.18 L557.78,77.10 L558.82,75.00 L559.86,72.87 L560.89,70.72 L561.93,68.55 L562.97,66.36 L564.01,64.15 L565.05,61.91 L566.09,59.66 L567.12,57.39 L568.16,55.09 L569.20,52.78 L570.24,50.44 L571.28,48.09 L572.32,45.71 L573.35,43.32 L574.39,40.91 L575.43,38.48 L576.47,36.02 L577.51,33.55 L578.55,31.07 L579.58,28.56 L580.62,26.03 L581.66,23.49 L582.70,20.93" fill="none" stroke="#0000ff" stroke-width="2.2" stroke-linecap="round" stroke-linejoin="round"/>
<path d="M92.55,255.44 L93.43,258.22 L94.30,260.96 L95.18,263.67 L96.05,266.34 L96.93,268.98 L97.80,271.57 L98.68,274.13 L99.56,276.66 L100.43,279.15 L101.31,281.60 L102.18,284.02 L103.06,286.41 L103.94,288.76 L104.81,291.07 L105.69,293.36 L106.56,295.61 L107.44,297.83 L108.31,300.01 L109.19,302.17 L110.07,304.29 L110.94,306.38 L111.82,308.44 L112.69,310.47 L113.57,312.46 L114.44,314.43 L115.32,316.37 L116.20,318.28 L117.07,320.16 L117.95,322.00 L118.82,323.83 L119.70,325.62 L120.58,327.38 L121.45,329.12 L122.33,330.83 L123.20,332.51 L124.08,334.16 L124.95,335.79 L125.83,337.39 L126.71,338.96 L127.58,340.51 L128.46,342.03 L129.33,343.53 L130.21,345.00 L131.08,346.44 L131.96,347.86 L132.84,349.26 L133.71,350.63 L134.59,351.98 L135.46,353.30 L136.34,354.60 L137.22,355.88 L138.09,357.13 L138.97,358.36 L139.84,359.57 L140.72,360.76 L141.59,361.92 L142.47,363.06 L143.35,364.18 L144.22,365.28 L145.10,366.35 L145.97,367.41 L146.85,368.44 L147.72,369.45 L148.60,370.44 L149.48,371.42 L150.35,372.37 L151.23,373.30 L152.10,374.21 L152.98,375.10 L153.86,375.97 L154.73,376.83 L155.61,377.66 L156.48,378.48 L157.36,379.27 L158.23,380.05 L159.11,380.81 L159.99,381.55 L160.86,382.27 L161.74,382.98 L162.61,383.67 L163.49,384.34 L164.36,384.99 L165.24,385.63 L166.12,386.25 L166.99,386.85 L167.87,387.43 L168.74,388.00 L169.62,388.55 L170.49,389.09 L171.37,389.61 L172.25,390.12 L173.12,390.60 L174.00,391.08 L174.87,391.54 L175.75,391.98 L176.63,392.41 L177.50,392.82 L178.38,393.22 L179.25,393.60 L180.13,393.97 L181.00,394.32 L181.88,394.66 L182.76,394.99 L183.63,395.30 L184.51,395.60 L185.38,395.88 L186.26,396.16 L187.13,396.41 L188.01,396.66 L188.89,396.89 L189.76,397.11 L190.64,397.31 L191.51,397.50 L192.39,397.68 L193.27,397.85 L194.14,398.01 L195.02,398.15 L195.89,398.28 L196.77,398.40 L197.64,398.50 L198.52,398.60 L199.40,398.68 L200.27,398.75 L201.15,398.81 L202.02,398.86 L202.90,398.90 L203.77,398.93 L204.65,398.94 L205.53,398.95 L206.40,398.94 L207.28,398.92 L208.15,398.89 L209.03,398.86 L209.91,398.81 L210.78,398.75 L211.66,398.68 L212.53,398.60 L213.41,398.51 L214.28,398.41 L215.16,398.30 L216.04,398.19 L216.91,398.06 L217.79,397.92 L218.66,397.77 L219.54,397.62 L220.41,397.45 L221.29,397.28 L222.17,397.09 L223.04,396.90 L223.92,396.70 L224.79,396.49 L225.67,396.27 L226.55,396.04 L227.42,395.81 L228.30,395.56 L229.17,395.31 L230.05,395.05 L230.92,394.78 L231.80,394.50" fill="none" stroke="#ff0000" stroke-width="2.2" stroke-linecap="round" stroke-linejoin="round"/>
<path d="M124.35,253.11 L125.26,257.04 L126.18,260.90 L127.09,264.70 L128.01,268.43 L128.92,272.10 L129.84,275.71 L130.75,279.25 L131.67,282.73 L132.58,286.15 L133.50,289.51 L134.41,292.81 L135.33,296.05 L136.24,299.23 L137.16,302.35 L138.07,305.41 L138.99,308.41 L139.90,311.35 L140.82,314.24 L141.73,317.07 L142.65,319.84 L143.56,322.56 L144.48,325.22 L145.39,327.82 L146.30,330.38 L147.22,332.87 L148.13,335.32 L149.05,337.70 L149.96,340.04 L150.88,342.32 L151.79,344.56 L152.71,346.73 L153.62,348.86 L154.54,350.94 L155.45,352.97 L156.37,354.94 L157.28,356.87 L158.20,358.74 L159.11,360.57 L160.03,362.35 L160.94,364.08 L161.86,365.76 L162.77,367.40 L163.69,368.99 L164.60,370.53 L165.52,372.02 L166.43,373.47 L167.34,374.87 L168.26,376.23 L169.17,377.54 L170.09,378.81 L171.00,380.03 L171.92,381.21 L172.83,382.35 L173.75,383.44 L174.66,384.49 L175.58,385.50 L176.49,386.46 L177.41,387.38 L178.32,388.26 L179.24,389.10 L180.15,389.90 L181.07,390.66 L181.98,391.37 L182.90,392.05 L183.81,392.69 L184.73,393.29 L185.64,393.84 L186.56,394.36 L187.47,394.84 L188.38,395.29 L189.30,395.69 L190.21,396.06 L191.13,396.39 L192.04,396.68 L192.96,396.94 L193.87,397.15 L194.79,397.34 L195.70,397.48 L196.62,397.59 L197.53,397.67 L198.45,397.71 L199.36,397.72 L200.28,397.69 L201.19,397.62 L202.11,397.52 L203.02,397.39 L203.94,397.23 L204.85,397.03 L205.77,396.80 L206.68,396.53 L207.59,396.24 L208.51,395.91 L209.42,395.54 L210.34,395.15 L211.25,394.73 L212.17,394.27 L213.08,393.78 L214.00,393.26 L214.91,392.71 L215.83,392.13 L216.74,391.52 L217.66,390.89 L218.57,390.22 L219.49,389.52 L220.40,388.79 L221.32,388.03 L222.23,387.25 L223.15,386.43 L224.06,385.59 L224.98,384.72 L225.89,383.82 L226.81,382.89 L227.72,381.93 L228.63,380.95 L229.55,379.94 L230.46,378.91 L231.38,377.84 L232.29,376.76 L233.21,375.64 L234.12,374.50 L235.04,373.33 L235.95,372.14 L236.87,370.92 L237.78,369.67 L238.70,368.40 L239.61,367.11 L240.53,365.79 L241.44,364.45 L242.36,363.08 L243.27,361.69 L244.19,360.27 L245.10,358.83 L246.02,357.37 L246.93,355.88 L247.85,354.37 L248.76,352.83 L249.67,351.28 L250.59,349.70 L251.50,348.09 L252.42,346.47 L253.33,344.82 L254.25,343.15 L255.16,341.46 L256.08,339.75 L256.99,338.02 L257.91,336.26 L258.82,334.48 L259.74,332.69 L260.65,330.87 L261.57,329.03 L262.48,327.17 L263.40,325.29 L264.31,323.38 L265.23,321.46 L266.14,319.52 L267.06,317.56 L267.97,315.58 L268.89,313.58 L269.80,311.56" fill="none" stroke="#0000ff" stroke-width="2.2" stroke-linecap="round" stroke-linejoin="round"/>
<path d="M423.60,308.62 L424.64,310.94 L425.68,313.21 L426.72,315.45 L427.75,317.65 L428.79,319.81 L429.83,321.94 L430.87,324.03 L431.91,326.08 L432.95,328.09 L433.98,330.07 L435.02,332.01 L436.06,333.91 L437.10,335.78 L438.14,337.61 L439.18,339.40 L440.21,341.16 L441.25,342.88 L442.29,344.56 L443.33,346.21 L444.37,347.82 L445.41,349.39 L446.44,350.93 L447.48,352.43 L448.52,353.90 L449.56,355.33 L450.60,356.72 L451.64,358.08 L452.67,359.40 L453.71,360.69 L454.75,361.94 L455.79,363.15 L456.83,364.33 L457.87,365.48 L458.90,366.59 L459.94,367.66 L460.98,368.70 L462.02,369.70 L463.06,370.67 L464.10,371.60 L465.13,372.50 L466.17,373.37 L467.21,374.20 L468.25,374.99 L469.29,375.75 L470.33,376.48 L471.36,377.17 L472.40,377.83 L473.44,378.45 L474.48,379.04 L475.52,379.60 L476.56,380.12 L477.59,380.61 L478.63,381.06 L479.67,381.48 L480.71,381.87 L481.75,382.23 L482.79,382.55 L483.83,382.84 L484.86,383.09 L485.90,383.31 L486.94,383.50 L487.98,383.66 L489.02,383.78 L490.06,383.88 L491.09,383.94 L492.13,383.96 L493.17,383.96 L494.21,383.92 L495.25,383.85 L496.29,383.75 L497.32,383.62 L498.36,383.45 L499.40,383.26 L500.44,383.03 L501.48,382.77 L502.52,382.48 L503.55,382.16 L504.59,381.81 L505.63,381.42 L506.67,381.01 L507.71,380.56 L508.75,380.09 L509.78,379.58 L510.82,379.04 L511.86,378.48 L512.90,377.88 L513.94,377.25 L514.98,376.59 L516.01,375.91 L517.05,375.19 L518.09,374.44 L519.13,373.66 L520.17,372.86 L521.21,372.02 L522.24,371.16 L523.28,370.26 L524.32,369.34 L525.36,368.39 L526.40,367.41 L527.44,366.40 L528.47,365.36 L529.51,364.29 L530.55,363.19 L531.59,362.07 L532.63,360.92 L533.67,359.74 L534.71,358.53 L535.74,357.29 L536.78,356.03 L537.82,354.74 L538.86,353.42 L539.90,352.07 L540.94,350.69 L541.97,349.29 L543.01,347.86 L544.05,346.41 L545.09,344.92 L546.13,343.41 L547.17,341.87 L548.20,340.31 L549.24,338.72 L550.28,337.10 L551.32,335.46 L552.36,333.79 L553.40,332.09 L554.43,330.37 L555.47,328.62 L556.51,326.85 L557.55,325.05 L558.59,323.22 L559.63,321.37 L560.66,319.50 L561.70,317.60 L562.74,315.67 L563.78,313.72 L564.82,311.74 L565.86,309.74 L566.89,307.71 L567.93,305.66 L568.97,303.58 L570.01,301.48 L571.05,299.35 L572.09,297.20 L573.12,295.03 L574.16,292.83 L575.20,290.61 L576.24,288.36 L577.28,286.09 L578.32,283.80 L579.35,281.48 L580.39,279.14 L581.43,276.77 L582.47,274.38 L583.51,271.97 L584.55,269.54 L585.58,267.08 L586.62,264.60 L587.66,262.10 L588.70,259.57" fill="none" stroke="#ff0000" stroke-width="2.2" stroke-linecap="round" stroke-linejoin="round"/>
<path d="M423.70,289.89 L424.73,293.32 L425.76,296.68 L426.80,299.98 L427.83,303.21 L428.86,306.37 L429.89,309.47 L430.92,312.50 L431.96,315.47 L432.99,318.37 L434.02,321.21 L435.05,323.99 L436.08,326.71 L437.12,329.36 L438.15,331.95 L439.18,334.48 L440.21,336.95 L441.25,339.37 L442.28,341.72 L443.31,344.01 L444.34,346.24 L445.37,348.42 L446.41,350.54 L447.44,352.60 L448.47,354.61 L449.50,356.56 L450.53,358.45 L451.57,360.29 L452.60,362.07 L453.63,363.80 L454.66,365.47 L455.69,367.10 L456.73,368.67 L457.76,370.18 L458.79,371.65 L459.82,373.06 L460.85,374.42 L461.89,375.73 L462.92,376.99 L463.95,378.20 L464.98,379.36 L466.02,380.47 L467.05,381.53 L468.08,382.54 L469.11,383.50 L470.14,384.42 L471.18,385.29 L472.21,386.11 L473.24,386.89 L474.27,387.62 L475.30,388.30 L476.34,388.94 L477.37,389.53 L478.40,390.08 L479.43,390.58 L480.46,391.04 L481.50,391.46 L482.53,391.83 L483.56,392.16 L484.59,392.45 L485.62,392.69 L486.66,392.89 L487.69,393.05 L488.72,393.17 L489.75,393.25 L490.78,393.29 L491.82,393.29 L492.85,393.24 L493.88,393.16 L494.91,393.04 L495.95,392.88 L496.98,392.68 L498.01,392.44 L499.04,392.16 L500.07,391.84 L501.11,391.49 L502.14,391.10 L503.17,390.68 L504.20,390.21 L505.23,389.71 L506.27,389.18 L507.30,388.60 L508.33,388.00 L509.36,387.35 L510.39,386.67 L511.43,385.96 L512.46,385.21 L513.49,384.43 L514.52,383.62 L515.55,382.77 L516.59,381.89 L517.62,380.97 L518.65,380.02 L519.68,379.04 L520.72,378.03 L521.75,376.98 L522.78,375.91 L523.81,374.80 L524.84,373.66 L525.88,372.48 L526.91,371.28 L527.94,370.05 L528.97,368.79 L530.00,367.49 L531.04,366.17 L532.07,364.82 L533.10,363.43 L534.13,362.02 L535.16,360.58 L536.20,359.11 L537.23,357.61 L538.26,356.09 L539.29,354.53 L540.32,352.95 L541.36,351.34 L542.39,349.71 L543.42,348.04 L544.45,346.35 L545.48,344.63 L546.52,342.89 L547.55,341.12 L548.58,339.32 L549.61,337.50 L550.65,335.65 L551.68,333.77 L552.71,331.87 L553.74,329.95 L554.77,328.00 L555.81,326.02 L556.84,324.02 L557.87,322.00 L558.90,319.95 L559.93,317.88 L560.97,315.79 L562.00,313.67 L563.03,311.53 L564.06,309.36 L565.09,307.17 L566.13,304.96 L567.16,302.73 L568.19,300.47 L569.22,298.19 L570.25,295.89 L571.29,293.57 L572.32,291.22 L573.35,288.85 L574.38,286.47 L575.42,284.06 L576.45,281.63 L577.48,279.18 L578.51,276.70 L579.54,274.21 L580.58,271.70 L581.61,269.16 L582.64,266.61 L583.67,264.04 L584.70,261.44 L585.74,258.83 L586.77,256.20 L587.80,253.55" fill="none" stroke="#0000ff" stroke-width="2.2" stroke-linecap="round" stroke-linejoin="round"/>
<text x="171.00" y="31.90" font-size="18.8" fill="#000" text-anchor="start" >(a)</text>
<text x="432.60" y="33.80" font-size="18.8" fill="#000" text-anchor="start" >(b)</text>
<text x="177.00" y="265.60" font-size="18.6" fill="#000" text-anchor="start" >(c)</text>
<text x="518.90" y="265.60" font-size="18.6" fill="#000" text-anchor="start" >(d)</text>
<line x1="204.60" y1="20.40" x2="225.00" y2="20.40" stroke="#ff0000" stroke-width="2.2"/>
<line x1="204.60" y1="30.60" x2="225.00" y2="30.60" stroke="#0000ff" stroke-width="2.2"/>
<text x="226.50" y="23.00" font-size="8.0" fill="#000" text-anchor="start" >LDA</text>
<text x="226.50" y="33.40" font-size="8.3" fill="#000" text-anchor="start" >PBE-GGA</text>
<line x1="457.10" y1="23.20" x2="477.50" y2="23.20" stroke="#ff0000" stroke-width="2.2"/>
<line x1="457.10" y1="33.20" x2="477.50" y2="33.20" stroke="#0000ff" stroke-width="2.2"/>
<text x="478.90" y="25.70" font-size="8.0" fill="#000" text-anchor="start" >LDA</text>
<text x="478.90" y="35.70" font-size="8.1" fill="#000" text-anchor="start" >PBE-GGA</text>
<rect x="215.4" y="249.0" width="50.3" height="30.5" fill="#fff" stroke="#999" stroke-width="1"/>
<line x1="216.30" y1="257.40" x2="243.10" y2="257.40" stroke="#ff0000" stroke-width="2.2"/>
<line x1="216.30" y1="271.70" x2="243.10" y2="271.70" stroke="#0000ff" stroke-width="2.2"/>
<text x="245.40" y="261.20" font-size="11.5" fill="#000" text-anchor="start" >FM</text>
<text x="245.40" y="275.20" font-size="11.4" fill="#000" text-anchor="start" >NM</text>
<rect x="448.5" y="249.3" width="44.2" height="26.1" fill="#fff" stroke="#999" stroke-width="1"/>
<line x1="449.30" y1="256.40" x2="472.80" y2="256.40" stroke="#ff0000" stroke-width="2.2"/>
<line x1="449.30" y1="268.70" x2="472.80" y2="268.70" stroke="#0000ff" stroke-width="2.2"/>
<text x="475.00" y="259.90" font-size="10.0" fill="#000" text-anchor="start" >FM</text>
<text x="475.00" y="272.10" font-size="9.8" fill="#000" text-anchor="start" >NM</text>
<text transform="translate(90.84,399.80) scale(0.9629,1)" font-size="15.71" fill="#000">PtTiGe</text>
<text transform="translate(416.14,395.80) scale(0.9963,1)" font-size="14.95" fill="#000">PtTiPb</text>
<text transform="translate(7.98,100.69) rotate(-90) scale(1.1262,1)" font-size="9.62" fill="#000">Energy(Ry)</text>
<text transform="translate(12.38,362.23) rotate(-90) scale(1.1230,1)" font-size="11.48" fill="#000">Energy (Ry)</text>
<text transform="translate(147.79,206.80) scale(1.0019,1)" font-size="10.91" fill="#000">Volume(a.u)</text>
<text transform="translate(204.68,203.70) scale(1.1262,1)" font-size="9.97" fill="#000">3</text>
<text transform="translate(484.99,207.10) scale(1.0073,1)" font-size="10.91" fill="#000">Volume(a.u)</text>
<text transform="translate(542.05,204.20) scale(1.1966,1)" font-size="9.97" fill="#000">3</text>
<text transform="translate(152.17,441.90) scale(0.9974,1)" font-size="12.88" fill="#000">Volume (a.u^3)</text>
<text transform="translate(489.17,441.90) scale(1.0129,1)" font-size="12.73" fill="#000">Volume (a.u^3)</text>
</svg></body></html>
